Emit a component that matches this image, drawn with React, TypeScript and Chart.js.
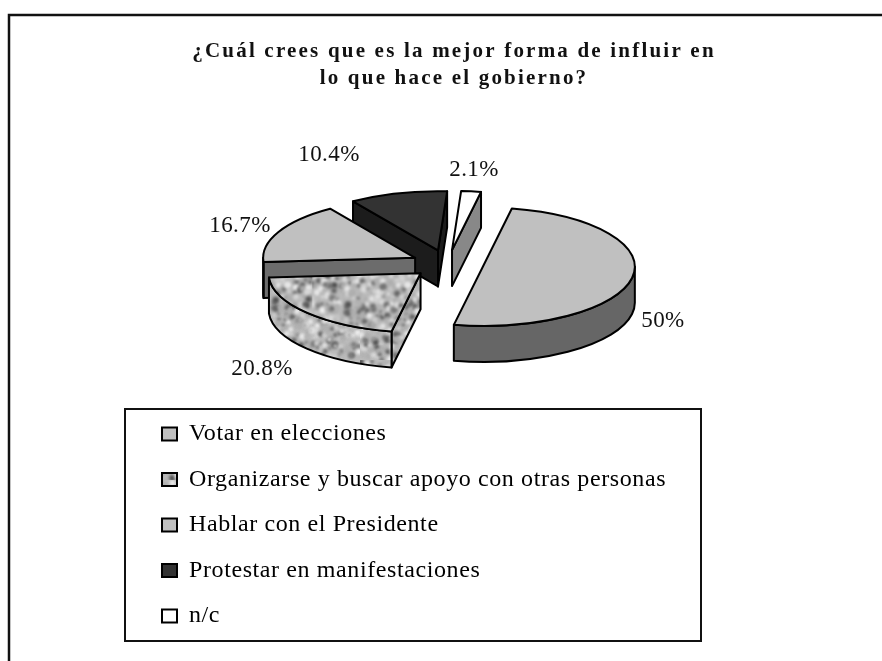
import React, { useEffect, useRef } from "react";
import { Chart, registerables } from "chart.js";

Chart.register(...registerables);

const CATEGORIES = [
  "Votar en elecciones",
  "Organizarse y buscar apoyo con otras personas",
  "Hablar con el Presidente",
  "Protestar en manifestaciones",
  "n/c",
];
const VALUES = [50, 20.8, 16.7, 10.4, 2.1];
const TITLE_LINES = [
  "¿Cuál crees que es la mejor forma de influir en",
  "lo que hace el gobierno?",
];
const TOP_COLORS = ["#c0c0c0", "PATTERN", "#c0c0c0", "#333333", "#ffffff"];
const SIDE_COLORS = ["#666666", "PATTERN", "#6c6c6c", "#1c1c1c", "#888888"];

const SERIF = '"Liberation Serif", serif';
const CX = 447.5;
const CY = 264;
const TILT = 0.39;
const DEPTH = 36;
const EXPLODE = 36;
const DRAW_ORDER = [3, 4, 2, 1, 0];
const LABEL_ANCHORS: [number, number][] = [
  [663, 321],
  [262, 369],
  [240, 226],
  [329, 155],
  [474, 170],
];

function hash(a: number, b: number) {
  const h = Math.sin(a * 12.9898 + b * 78.233) * 43758.5453;
  return h - Math.floor(h);
}

function makeTile(): HTMLCanvasElement {
  const c = document.createElement("canvas");
  c.width = 120;
  c.height = 120;
  const g = c.getContext("2d")!;
  g.fillStyle = "#bcbcbc";
  g.fillRect(0, 0, 120, 120);
  g.filter = "blur(1.5px)";
  for (let i = 0; i < 24; i++) {
    for (let j = 0; j < 24; j++) {
      const f = hash(i, j);
      const jx = (hash(i + 31, j + 7) - 0.5) * 6;
      const jy = (hash(i + 5, j + 47) - 0.5) * 6;
      const rad = 1.4 + hash(i + 11, j + 3) * 2;
      const shade = f < 0.28 ? 70 + f * 200 : f > 0.6 ? 205 + (f - 0.6) * 100 : 175;
      g.fillStyle = `rgb(${shade},${shade},${shade})`;
      g.beginPath();
      g.arc(i * 5 + 2.5 + jx, j * 5 + 2.5 + jy, rad, 0, Math.PI * 2);
      g.fill();
    }
  }
  return c;
}

function slicePath(ctx: CanvasRenderingContext2D, x: number, y: number, r: number, a0: number, a1: number) {
  ctx.beginPath();
  ctx.moveTo(x, y);
  ctx.ellipse(x, y, r, r * TILT, 0, a0, a1);
  ctx.closePath();
}

function quad(ctx: CanvasRenderingContext2D, x: number, y: number, r: number, a: number, fill: any) {
  const ex = x + r * Math.cos(a);
  const ey = y + r * TILT * Math.sin(a);
  ctx.beginPath();
  ctx.moveTo(x, y);
  ctx.lineTo(ex, ey);
  ctx.lineTo(ex, ey + DEPTH);
  ctx.lineTo(x, y + DEPTH);
  ctx.closePath();
  ctx.fillStyle = fill;
  ctx.fill();
  ctx.stroke();
}

function withSpacing(box: any, chart: any, spacing: string) {
  if (box.__spaced) return;
  box.__spaced = true;
  const draw = box.draw.bind(box);
  box.draw = () => {
    const ctx = chart.ctx;
    ctx.save();
    ctx.letterSpacing = spacing;
    draw();
    ctx.restore();
  };
}

export default function App() {
  const ref = useRef<HTMLCanvasElement>(null);

  useEffect(() => {
    const canvas = ref.current!;
    const ctx0 = canvas.getContext("2d")!;
    const tile = makeTile();
    const topPattern = ctx0.createPattern(tile, "repeat")!;
    topPattern.setTransform(new DOMMatrix().scale(1, 1 / TILT));
    const sidePattern = ctx0.createPattern(tile, "repeat")!;
    const tops = TOP_COLORS.map((c) => (c === "PATTERN" ? topPattern : c));
    const sides = SIDE_COLORS.map((c) => (c === "PATTERN" ? sidePattern : c));

    const pie3d = {
      id: "pie3d",
      beforeDraw(chart: any) {
        const ctx = chart.ctx;
        ctx.save();
        ctx.strokeStyle = "#111";
        ctx.lineWidth = 2.5;
        ctx.beginPath();
        ctx.moveTo(9, 661);
        ctx.lineTo(9, 15);
        ctx.lineTo(882, 15);
        ctx.stroke();
        ctx.lineWidth = 2;
        ctx.strokeRect(125, 409, 576, 232);
        ctx.restore();
      },
      afterLayout(chart: any) {
        const legend = chart.legend;
        legend.left = 140.5;
        legend.top = 400.5;
        legend.right = 701;
        legend.bottom = 800;
        withSpacing(chart.titleBlock, chart, "2.2px");
        withSpacing(legend, chart, "0.6px");
      },
      beforeDatasetDraw(chart: any) {
        const ctx = chart.ctx;
        const arcs = chart.getDatasetMeta(0).data;
        ctx.save();
        ctx.lineWidth = 2;
        ctx.lineJoin = "round";
        ctx.strokeStyle = "#000";
        for (const i of DRAW_ORDER) {
          const el = arcs[i];
          const a0 = el.startAngle;
          const a1 = el.endAngle;
          const r = el.outerRadius;
          const mid = (a0 + a1) / 2;
          const dx = EXPLODE * Math.cos(mid);
          const dy = EXPLODE * TILT * Math.sin(mid);
          const x = CX + dx;
          const y = CY + dy;

          // cut faces turned towards the viewer
          if (Math.sin(a0 - Math.PI / 2) > 0) quad(ctx, x, y, r, a0, sides[i]);
          if (Math.sin(a1 + Math.PI / 2) > 0) quad(ctx, x, y, r, a1, sides[i]);

          // outer wall, front half only
          for (const turn of [0, Math.PI * 2]) {
            const lo = Math.max(a0, turn);
            const hi = Math.min(a1, Math.PI + turn);
            if (hi > lo) {
              ctx.beginPath();
              ctx.ellipse(x, y, r, r * TILT, 0, lo, hi);
              ctx.ellipse(x, y + DEPTH, r, r * TILT, 0, hi, lo, true);
              ctx.closePath();
              ctx.fillStyle = sides[i];
              ctx.fill();
              ctx.stroke();
            }
          }

          // top face: the library's own arc element, in tilted space
          ctx.save();
          ctx.translate(x, y);
          ctx.scale(1, TILT);
          ctx.translate(-el.x, -el.y);
          el.draw(ctx);
          ctx.restore();
          slicePath(ctx, x, y, r, a0, a1);
          ctx.stroke();
        }
        ctx.restore();
        return false;
      },
      afterDatasetsDraw(chart: any) {
        const ctx = chart.ctx;
        ctx.save();
        ctx.font = `23px ${SERIF}`;
        ctx.letterSpacing = "0.4px";
        ctx.fillStyle = "#111";
        ctx.textAlign = "center";
        ctx.textBaseline = "middle";
        VALUES.forEach((v, i) => {
          ctx.fillText(`${v}%`, LABEL_ANCHORS[i][0], LABEL_ANCHORS[i][1]);
        });
        ctx.restore();
      },
    };

    const chart = new Chart(canvas, {
      type: "pie",
      data: {
        labels: CATEGORIES,
        datasets: [
          {
            data: VALUES,
            backgroundColor: tops as any,
            borderWidth: 0,
            radius: 152,
            rotation: 11,
          },
        ],
      },
      options: {
        responsive: false,
        animation: false,
        events: [],
        layout: { padding: { left: 26 } },
        plugins: {
          title: {
            display: true,
            text: TITLE_LINES,
            color: "#111",
            font: { family: SERIF, size: 21, weight: "bold", lineHeight: 1.286 },
            padding: { top: 38.5, bottom: 10 },
          },
          tooltip: { enabled: false },
          legend: {
            display: true,
            position: "left",
            align: "start",
            maxWidth: 600,
            labels: {
              color: "#111",
              font: { family: SERIF, size: 24 },
              boxWidth: 15,
              boxHeight: 13,
              padding: 21.5,
              generateLabels: () =>
                CATEGORIES.map((text, i) => ({
                  text,
                  fillStyle: i === 1 ? sidePattern : tops[i],
                  strokeStyle: "#000",
                  lineWidth: 2,
                  hidden: false,
                  index: i,
                })) as any,
            },
          },
        },
      } as any,
      plugins: [pie3d as any],
    });
    return () => chart.destroy();
  }, []);

  return (
    <canvas
      ref={ref}
      width={882}
      height={661}
      style={{ position: "fixed", left: 0, top: 0, width: 882, height: 661, display: "block" }}
    />
  );
}
